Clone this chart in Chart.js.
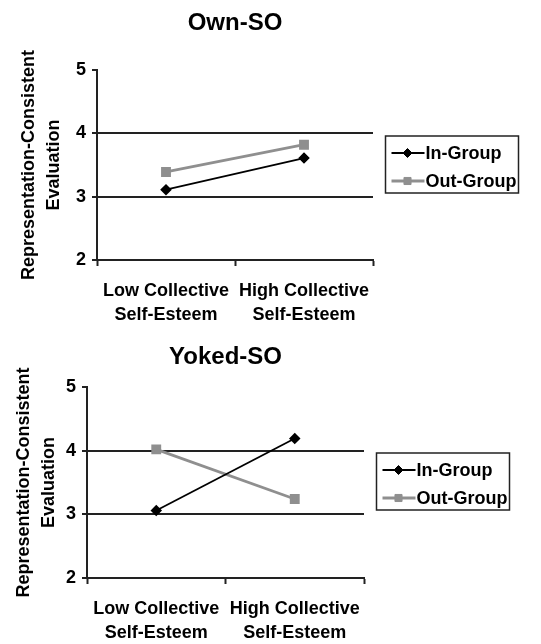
<!DOCTYPE html>
<html>
<head>
<meta charset="utf-8">
<script src="https://cdn.jsdelivr.net/npm/chart.js@4/dist/chart.umd.min.js"></script>
<style>
  html, body { margin: 0; padding: 0; background: #fff; }
  #wrap { position: relative; width: 541px; height: 644px; }
  canvas { position: absolute; left: 0; }
</style>
</head>
<body>
<div id="wrap">
  <canvas id="c1" width="541" height="320" style="top:0"></canvas>
  <canvas id="c2" width="541" height="324" style="top:320px"></canvas>
</div>
<script>
// ---- data ----
const categories = [["Low Collective", "Self-Esteem"], ["High Collective", "Self-Esteem"]];
const seriesNames = ["In-Group", "Out-Group"];
const ownInGroup = [3.11, 3.61];
const ownOutGroup = [3.39, 3.82];
const yokedInGroup = [3.06, 4.19];
const yokedOutGroup = [4.02, 3.24];
const yTicks = [2, 3, 4, 5];
const yTitle = ["Representation-Consistent", "Evaluation"];
const titles = ["Own-SO", "Yoked-SO"];

const FONT = "'Liberation Sans', Arial, sans-serif";
const AXIS = '#222';
const GRAY = '#8f8f8f';

const boxLegend = {
  id: 'boxLegend',
  afterDraw(chart) {
    const ctx = chart.ctx;
    const a = chart.chartArea;
    const x = a.right + 12.5, y = a.top + 66, w = 133, h = 57;
    ctx.save();
    ctx.fillStyle = '#fff';
    ctx.fillRect(x, y, w, h);
    ctx.strokeStyle = AXIS;
    ctx.lineWidth = 1.5;
    ctx.strokeRect(x, y, w, h);
    chart.data.datasets.forEach((ds, i) => {
      const ry = y + 17 + i * 28;
      ctx.strokeStyle = ds.borderColor;
      ctx.lineWidth = ds.borderWidth;
      ctx.beginPath();
      ctx.moveTo(x + 6, ry);
      ctx.lineTo(x + 39, ry);
      ctx.stroke();
      ctx.fillStyle = ds.pointBackgroundColor;
      ctx.strokeStyle = ds.pointBorderColor;
      ctx.lineWidth = 1;
      Chart.helpers.drawPoint(ctx, { pointStyle: ds.pointStyle, radius: ds.pointRadius, borderWidth: 1 }, x + 22, ry);
      ctx.fillStyle = '#000';
      ctx.font = 'bold 18px ' + FONT;
      ctx.textBaseline = 'middle';
      ctx.textAlign = 'left';
      ctx.fillText(ds.label, x + 40, ry + 1);
    });
    ctx.restore();
  }
};

function makeChart(id, title, inVals, outVals, L) {
  return new Chart(document.getElementById(id), {
    type: 'line',
    data: {
      labels: categories,
      datasets: [
        {
          label: seriesNames[0], data: inVals,
          borderColor: '#000', borderWidth: 1.8,
          pointStyle: 'rectRot', pointRadius: 4.5,
          pointBackgroundColor: '#000', pointBorderColor: '#000'
        },
        {
          label: seriesNames[1], data: outVals,
          borderColor: GRAY, borderWidth: 2.8,
          pointStyle: 'rect', pointRadius: 5,
          pointBackgroundColor: GRAY, pointBorderColor: GRAY
        }
      ]
    },
    options: {
      responsive: false,
      animation: false,
      devicePixelRatio: 1,
      layout: { padding: { left: L.padLeft, right: L.padRight, top: 0, bottom: 0 } },
      plugins: {
        legend: { display: false },
        tooltip: { enabled: false },
        title: {
          display: true, text: title, fullSize: false,
          color: '#000',
          font: { family: FONT, size: 24, weight: 'bold', lineHeight: 1.2 },
          padding: { top: L.titleTop, bottom: L.titleBottom }
        }
      },
      scales: {
        x: {
          type: 'category', offset: true,
          grid: { display: true, drawOnChartArea: false, offset: true, tickLength: 6, tickColor: AXIS, tickWidth: 2 },
          border: { display: true, color: AXIS, width: 2 },
          ticks: { color: '#000', padding: 13, maxRotation: 0, autoSkip: false,
                   font: { family: FONT, size: 18, weight: 'bold', lineHeight: 1.33 } },
          afterFit: s => { s.height = L.xHeight; }
        },
        y: {
          min: 2, max: 5,
          afterBuildTicks: s => { s.ticks = yTicks.map(v => ({ value: v })); },
          grid: {
            tickLength: 5, tickColor: AXIS, tickWidth: 2, lineWidth: 2,
            color: c => (c.tick && (c.tick.value === 3 || c.tick.value === 4)) ? AXIS : 'rgba(0,0,0,0)'
          },
          border: { display: true, color: AXIS, width: 2 },
          ticks: { color: '#000', padding: 6, font: { family: FONT, size: 18, weight: 'bold' } },
          title: {
            display: true, text: yTitle, color: '#000', padding: 0,
            font: { family: FONT, size: 18, weight: 'bold', lineHeight: 1.39 }
          },
          afterFit: s => { s.width = L.yWidth; }
        }
      }
    },
    plugins: [boxLegend]
  });
}

makeChart('c1', titles[0], ownInGroup, ownOutGroup,
  { padLeft: 16.5, padRight: 168, titleTop: 8.6, titleBottom: 32.6, xHeight: 60, yWidth: 80.5 });
makeChart('c2', titles[1], yokedInGroup, yokedOutGroup,
  { padLeft: 11.5, padRight: 177, titleTop: 22.6, titleBottom: 15.6, xHeight: 66, yWidth: 75.5 });
</script>
</body>
</html>
